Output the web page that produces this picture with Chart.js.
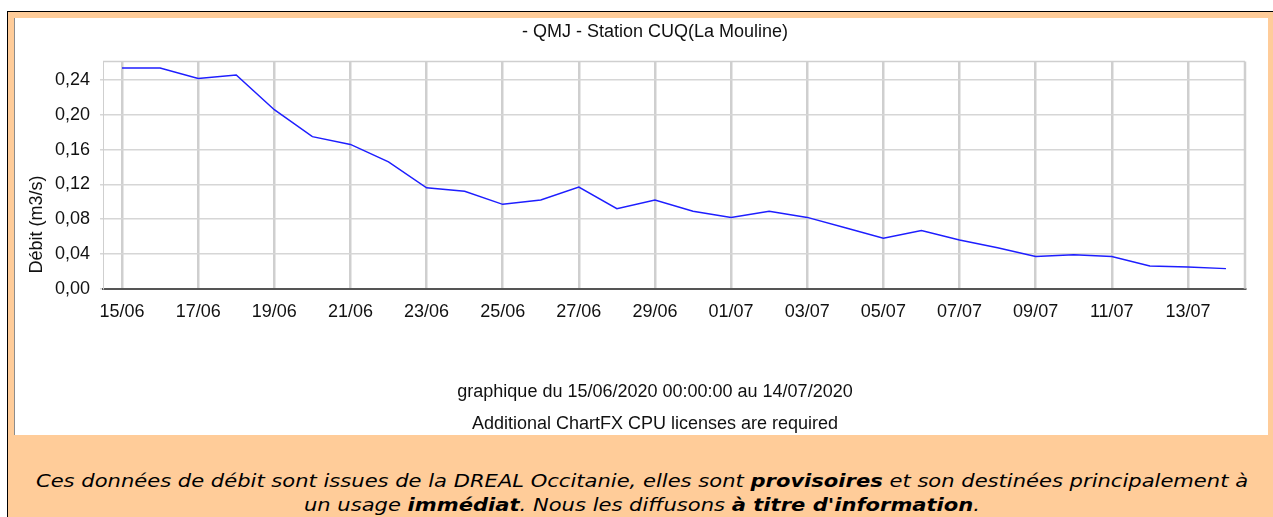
<!DOCTYPE html>
<html lang="fr">
<head>
<meta charset="utf-8">
<title>QMJ - Station CUQ(La Mouline)</title>
<script src="https://cdn.jsdelivr.net/npm/chart.js@4.4.0/dist/chart.umd.min.js"></script>
<style>
  html, body { margin: 0; padding: 0; background: #fff; }
  body { width: 1273px; height: 517px; overflow: hidden; position: relative; }
  #cadre {
    position: absolute; left: 7px; top: 11px; width: 1266px; height: 506px;
    border-top: 1px solid #000; border-left: 1px solid #000;
    background: #ffcc99; box-sizing: border-box;
  }
  #panneau {
    position: absolute; left: 14px; top: 18px; width: 1254px; height: 417px;
    background: #fff; overflow: hidden; border-left: 1px solid #8c8c8c; box-sizing: border-box;
  }
  #panneau canvas { position: absolute; left: 0; top: 0; }
  #note {
    position: absolute; left: 8px; top: 469px; width: 1265px; padding-left: 3px; box-sizing: border-box;
    text-align: center; font: italic 18px "DejaVu Sans", Verdana, sans-serif;
    line-height: 24px; color: #000;
    transform: scaleX(1.17); transform-origin: 634px 0;
  }
</style>
</head>
<body>
<div id="cadre"></div>
<div id="panneau"><canvas id="graphe" width="1280" height="425"></canvas></div>
<div id="note">Ces données de débit sont issues de la DREAL Occitanie, elles sont <b>provisoires</b> et son destinées principalement à<br>un usage <b>immédiat</b>. Nous les diffusons <b>à titre d'information</b>.</div>

<script>
// jours affichés en abscisse
const jours = ['15/06', '16/06', '17/06', '18/06', '19/06', '20/06', '21/06', '22/06', '23/06', '24/06',
  '25/06', '26/06', '27/06', '28/06', '29/06', '30/06', '01/07', '02/07', '03/07', '04/07',
  '05/07', '06/07', '07/07', '08/07', '09/07', '10/07', '11/07', '12/07', '13/07', '14/07'];

// débit moyen journalier (m3/s)
const debit = [0.254, 0.254, 0.242, 0.246, 0.206, 0.175, 0.166, 0.146, 0.116, 0.112,
  0.097, 0.102, 0.117, 0.092, 0.102, 0.089, 0.082, 0.089, 0.082, 0.070,
  0.058, 0.067, 0.056, 0.047, 0.037, 0.039, 0.037, 0.026, 0.025, 0.023];

const titre = '- QMJ - Station CUQ(La Mouline)';
const basDePage = ['graphique du 15/06/2020 00:00:00 au 14/07/2020', 'Additional ChartFX CPU licenses are required'];
const titreAxeY = 'Débit (m3/s)';

const police = '"Liberation Sans", Arial, sans-serif';
const gris = '#cfcfcf';
const taille = 18;

// bords haut et droit de la zone de tracé
const cadrePlot = {
  id: 'cadrePlot',
  beforeDatasetsDraw(chart) {
    const { ctx, chartArea: a } = chart;
    ctx.save();
    ctx.strokeStyle = gris;
    ctx.lineWidth = 1.5;
    ctx.beginPath();
    ctx.moveTo(a.left, a.top);
    ctx.lineTo(a.right, a.top);
    ctx.stroke();
    ctx.lineWidth = 2.5;
    ctx.beginPath();
    ctx.moveTo(a.right, a.top);
    ctx.lineTo(a.right, a.bottom);
    ctx.stroke();
    ctx.restore();
  }
};

// titre de l'axe Y, un peu plus bas que le centre comme sur l'original
const titreY = {
  id: 'titreY',
  afterDraw(chart) {
    const ctx = chart.ctx;
    ctx.save();
    ctx.translate(22, chart.chartArea.bottom - 64);
    ctx.rotate(-Math.PI / 2);
    ctx.font = taille + 'px ' + police;
    ctx.fillStyle = '#111';
    ctx.textAlign = 'center';
    ctx.textBaseline = 'middle';
    ctx.fillText(titreAxeY, 0, 0);
    ctx.restore();
  }
};

const virgule = v => v.toFixed(2).replace('.', ',');

new Chart(document.getElementById('graphe'), {
  type: 'line',
  data: {
    labels: jours,
    datasets: [{
      data: debit,
      borderColor: '#1e1eff',
      borderWidth: 1.5,
      pointRadius: 0,
      tension: 0,
      fill: false
    }]
  },
  options: {
    responsive: false,
    animation: false,
    layout: { padding: 0 },
    plugins: {
      legend: { display: false },
      tooltip: { enabled: false },
      title: {
        display: true,
        text: titre,
        color: '#111',
        font: { family: police, size: taille, weight: 'normal' },
        padding: { top: 3.2, bottom: 18.7 }
      },
      subtitle: {
        display: true,
        position: 'bottom',
        text: basDePage,
        color: '#111',
        font: { family: police, size: taille, lineHeight: '32px' },
        padding: { top: 0, bottom: 3 }
      }
    },
    scales: {
      x: {
        offset: true,
        grid: {
          offset: false,
          drawTicks: false,
          lineWidth: 2.5,
          color: c => (c.index % 2 === 0 ? gris : 'rgba(0,0,0,0)')
        },
        border: { color: '#555', width: 2 },
        ticks: {
          autoSkip: false,
          maxRotation: 0,
          padding: 12.6,
          color: '#111',
          font: { family: police, size: taille },
          callback: function (v, i) { return i % 2 === 0 ? this.getLabelForValue(v) : ''; }
        },
        afterFit(s) { s.height = 87.4; }
      },
      y: {
        min: 0,
        max: 0.2615,
        grid: { color: '#d6d6d6', lineWidth: 1.5, drawTicks: true, tickLength: 3 },
        border: { color: gris, width: 1 },
        ticks: {
          stepSize: 0.04,
          includeBounds: false,
          padding: 10,
          color: '#111',
          font: { family: police, size: taille },
          callback: v => virgule(v)
        },
        afterFit(s) { s.width = 88; }
      },
      // marge droite vide (l'image d'origine dépasse du cadre)
      marge: {
        position: 'right',
        grid: { display: false },
        border: { display: false },
        ticks: { display: false },
        afterFit(s) { s.width = 50; }
      }
    }
  },
  plugins: [cadrePlot, titreY]
});
</script>
</body>
</html>
